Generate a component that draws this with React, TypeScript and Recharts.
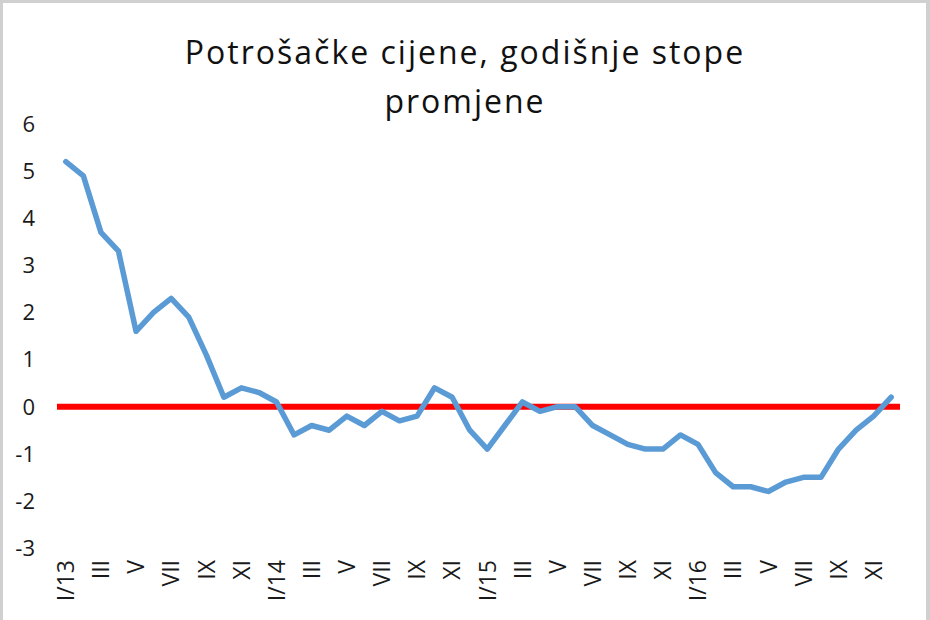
import React from 'react';
import { LineChart, Line, XAxis, YAxis, ReferenceLine } from 'recharts';

const months = [
  'I/13','II','III','IV','V','VI','VII','VIII','IX','X','XI','XII',
  'I/14','II','III','IV','V','VI','VII','VIII','IX','X','XI','XII',
  'I/15','II','III','IV','V','VI','VII','VIII','IX','X','XI','XII',
  'I/16','II','III','IV','V','VI','VII','VIII','IX','X','XI','XII',
];

const cpi = [
  5.2, 4.9, 3.7, 3.3, 1.6, 2.0, 2.3, 1.9, 1.1, 0.2, 0.4, 0.3,
  0.1, -0.6, -0.4, -0.5, -0.2, -0.4, -0.1, -0.3, -0.2, 0.4, 0.2, -0.5,
  -0.9, -0.4, 0.1, -0.1, 0.0, 0.0, -0.4, -0.6, -0.8, -0.9, -0.9, -0.6,
  -0.8, -1.4, -1.7, -1.7, -1.8, -1.6, -1.5, -1.5, -0.9, -0.5, -0.2, 0.2,
];

const yTicks = [-3, -2, -1, 0, 1, 2, 3, 4, 5, 6];

const data = months.map((m, i) => ({ m, v: cpi[i] }));

const FONT = '"Open Sans", sans-serif';

const XTick = (props: any) => {
  const { x, payload } = props;
  const y = 560;
  return (
    <text
      x={x}
      y={y}
      transform={`rotate(-90, ${x}, ${y})`}
      textAnchor="end"
      dy="0.36em"
      fontFamily={FONT}
      fontSize={23}
      fill="#1a1a1a"
    >
      {payload.value}
    </text>
  );
};

const YTick = (props: any) => {
  const { y, payload } = props;
  return (
    <text x={35} y={y} textAnchor="end" dy="0.36em" fontFamily={FONT} fontSize={22} fill="#1a1a1a">
      {payload.value}
    </text>
  );
};

export default function App() {
  return (
    <div
      style={{
        position: 'fixed',
        left: 0,
        top: 0,
        width: 930,
        height: 620,
        background: '#fff',
        overflow: 'hidden',
        boxSizing: 'border-box',
        borderLeft: '3px solid #d0d0d0',
        borderTop: '3px solid #d0d0d0',
        borderRight: '4px solid #d0d0d0',
      }}
    >
      <div
        style={{
          position: 'absolute',
          left: -3,
          top: 24,
          width: 930,
          textAlign: 'center',
          fontFamily: FONT,
          fontSize: 32,
          letterSpacing: 2,
          lineHeight: '49px',
          color: '#111',
        }}
      >
        Potrošačke cijene, godišnje stope
        <br />
        promjene
      </div>
      <div style={{ position: 'absolute', left: -3, top: -3 }}>
        <LineChart width={930} height={620} data={data} margin={{ top: 124, right: 30, bottom: 0, left: 0 }}>
          <XAxis
            dataKey="m"
            interval={1}
            tick={<XTick />}
            tickLine={false}
            axisLine={false}
            padding={{ left: 8.8, right: 8.8 }}
            height={72}
          />
          <YAxis
            domain={[-3, 6]}
            ticks={yTicks}
            width={57}
            tick={<YTick />}
            tickLine={false}
            axisLine={false}
            interval={0}
          />
          <ReferenceLine y={0} stroke="#ff0000" strokeWidth={6} />
          <Line
            type="linear"
            dataKey="v"
            stroke="#5b9bd5"
            strokeWidth={5.5}
            dot={false}
            isAnimationActive={false}
            strokeLinejoin="round"
            strokeLinecap="round"
          />
        </LineChart>
      </div>
    </div>
  );
}
